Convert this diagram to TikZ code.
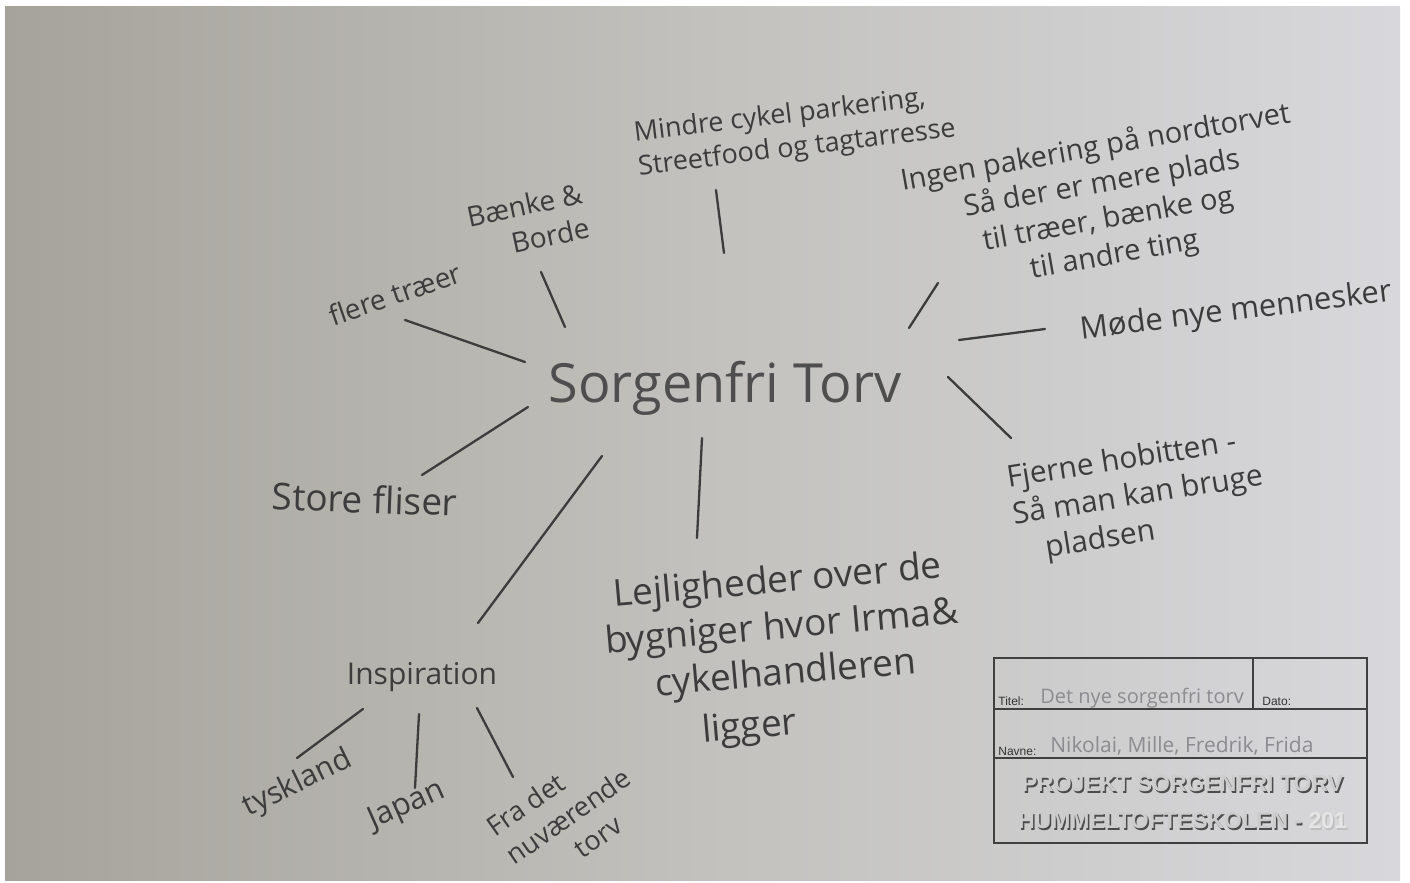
\documentclass[tikz,border=0pt]{standalone}
\usepackage{fontspec}
\setmainfont{Open Sans}
\newfontfamily\stampfont{Liberation Sans}
\definecolor{inkc}{HTML}{3C3C3C}
\definecolor{inkl}{HTML}{4E4E4E}
\definecolor{pencil}{HTML}{8C8C90}
\definecolor{paperL}{HTML}{A6A39C}
\definecolor{paperM}{HTML}{C2C1BD}
\definecolor{paperR}{HTML}{D8D8DC}
\newcommand{\fs}[1]{\fontsize{#1}{1.25\dimexpr #1\relax}\selectfont}
\begin{document}
\begin{tikzpicture}[x=0.5pt,y=-0.5pt,
  hand/.style={text=inkc, inner sep=0pt, align=center},
  conn/.style={draw=inkc, line width=1.15pt, line cap=round},
  frame/.style={draw=black!75, line width=0.9pt},
  lab/.style={text=black!80, inner sep=0pt, font=\stampfont\fs{6pt}},
  pen/.style={text=pencil, inner sep=0pt},
  stamp/.style={inner sep=0pt, font=\stampfont\bfseries\fs{11.5pt}}]
\useasboundingbox (0,0) rectangle (1410,883);
\fill[white] (0,0) rectangle (1410,883);
\shade[left color=paperL, right color=paperR, middle color=paperM, shading angle=90] (5,7) rectangle (1400,880);

% central node
\node[hand, text=inkl, anchor=base, font=\fs{27pt}] (sf) at (725,402) {Sorgenfri Torv};

% branch nodes
\node[hand, rotate=19, font=\fs{14pt}] (flere) at (395,294) {flere træer};
\node[hand, rotate=12, align=right, font=\fs{14pt}] (baenke) at (528,222) {Bænke \&\\Borde};
\node[hand, rotate=7, align=left, font=\fs{13.5pt}] (mindre) at (795,132) {Mindre cykel parkering,\\Streetfood og tagtarresse};
\node[hand, rotate=10, font=\fs{14.5pt}] (ingen) at (1105,202) {Ingen pakering på nordtorvet\\Så der er mere plads\\til træer, bænke og\\til andre ting};
\node[hand, rotate=7, font=\fs{15.5pt}] (mode) at (1236,312) {Møde nye mennesker};
\node[hand, rotate=9, align=left, font=\fs{15pt}] (fjerne) at (1138,497) {Fjerne hobitten -\\Så man kan bruge\\\hspace*{0.9em}pladsen};
\node[hand, rotate=5, font=\fs{18.5pt}] (lejl) at (784,654) {Lejligheder over de\\bygniger hvor Irma\&\\cykelhandleren\\[2pt]ligger\hspace*{2.2em}};
\node[hand, rotate=-2, font=\fs{18.5pt}] (store) at (365,499) {Store fliser};
\node[hand, font=\fs{15pt}] (insp) at (422,677) {Inspiration};
\node[hand, rotate=26, font=\fs{15pt}] (tysk) at (298,784) {tyskland};
\node[hand, rotate=24, font=\fs{15.5pt}] (japan) at (407,806) {Japan};
\node[hand, rotate=35, align=left, font=\fs{13.5pt}] (fra) at (568,816) {Fra det\\nuværende\\\hspace*{2.2em}torv};

% connector end points
\coordinate (a1) at (405,320); \coordinate (b1) at (525,362);
\coordinate (a2) at (541,272); \coordinate (b2) at (565,327);
\coordinate (a3) at (716,190); \coordinate (b3) at (724,253);
\coordinate (a4) at (938,283); \coordinate (b4) at (909,328);
\coordinate (a5) at (959,340); \coordinate (b5) at (1045,329);
\coordinate (a6) at (948,377); \coordinate (b6) at (1011,438);
\coordinate (a7) at (702,438); \coordinate (b7) at (697,538);
\coordinate (a8) at (528,407); \coordinate (b8) at (422,475);
\coordinate (a9) at (602,456); \coordinate (b9) at (478,623);
\coordinate (a10) at (363,709); \coordinate (b10) at (297,758);
\coordinate (a11) at (419,714); \coordinate (b11) at (415,788);
\coordinate (a12) at (477,708); \coordinate (b12) at (513,777);

\foreach \i in {1,...,12} \draw[conn] (a\i) -- (b\i);

% title block
\coordinate (tl) at (994,658); \coordinate (br) at (1367,843);
\draw[frame] (tl) rectangle (br);
\draw[frame] (994,709) -- (1367,709);
\draw[frame] (994,758) -- (1367,758);
\draw[frame] (1253,658) -- (1253,709);
\node[lab, anchor=base west] (titel) at (998,705) {Titel:};
\node[pen, anchor=base west, font=\fs{10pt}] (titelv) at (1040,703) {Det nye sorgenfri torv};
\node[lab, anchor=base west] (dato) at (1262,705) {Dato:};
\node[lab, anchor=base west] (navne) at (998,755) {Navne:};
\node[pen, anchor=base west, font=\fs{10.5pt}] (navnev) at (1050,752) {Nikolai, Mille, Fredrik, Frida};
\node[stamp, text=black!70, anchor=base] at (1184,793) {PROJEKT SORGENFRI TORV};
\node[stamp, text=black!20, anchor=base] (proj) at (1182.5,791.5) {PROJEKT SORGENFRI TORV};
\node[stamp, text=black!70, anchor=base] at (1184,830) {HUMMELTOFTESKOLEN - \textcolor{black!25}{201}};
\node[stamp, text=black!20, anchor=base] (humm) at (1182.5,828.5) {HUMMELTOFTESKOLEN - \textcolor{black!10}{201}};
\end{tikzpicture}
\end{document}
